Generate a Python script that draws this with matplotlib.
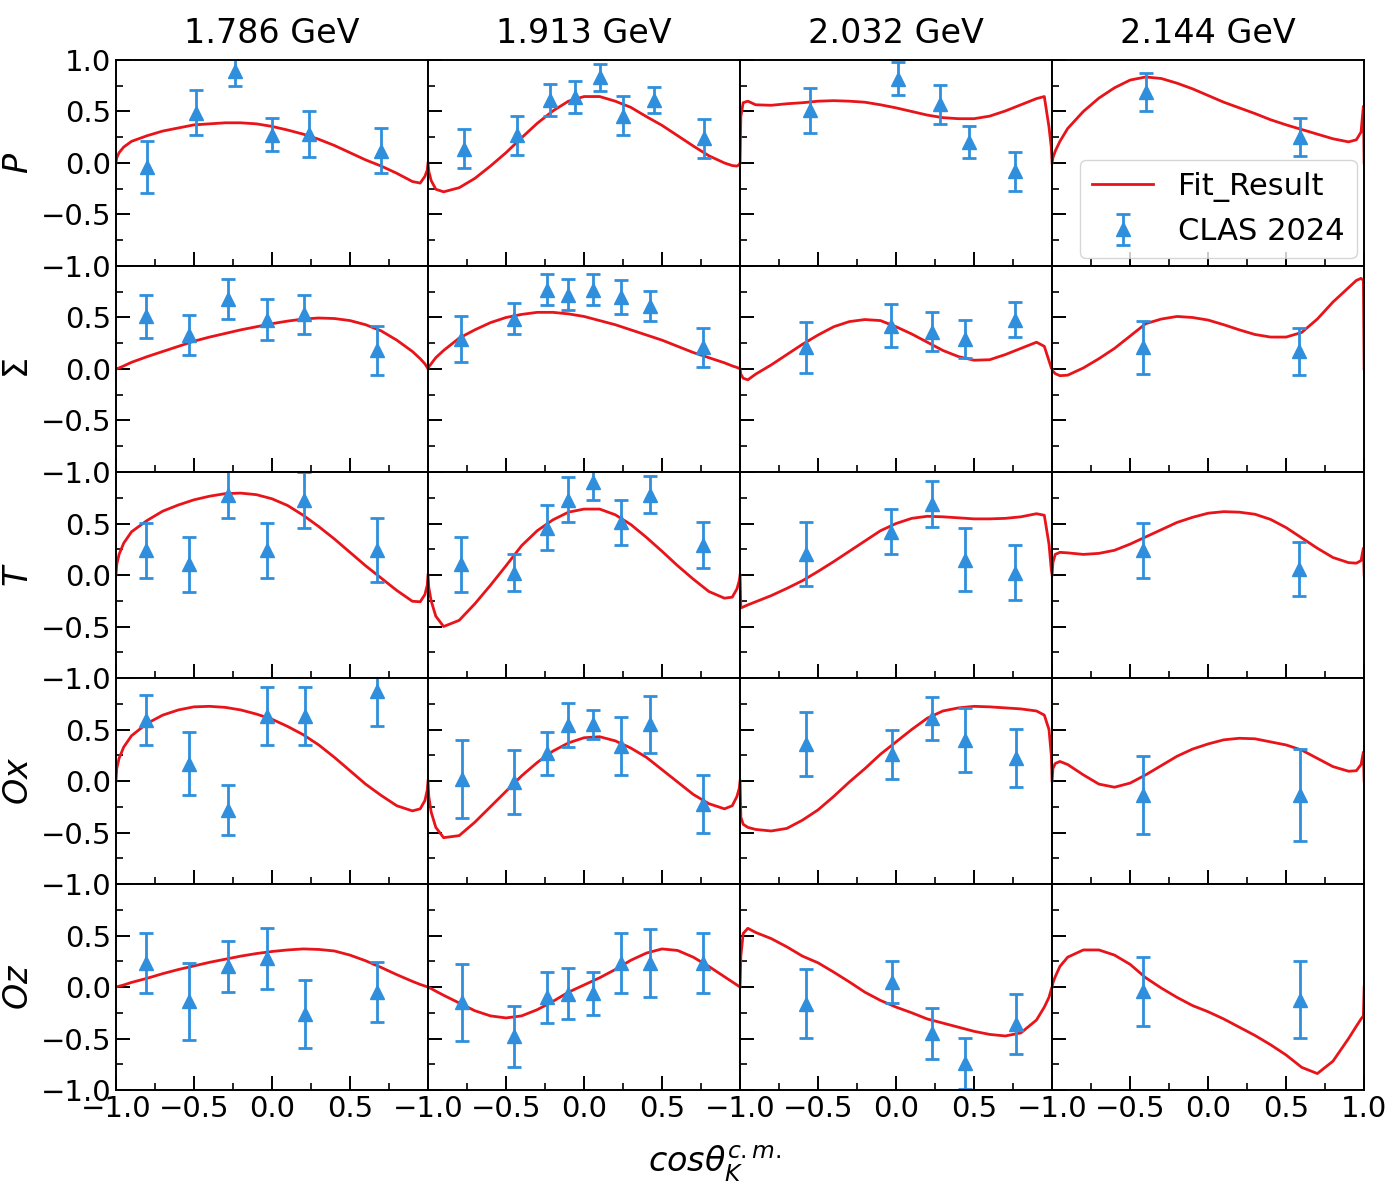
import numpy as np
import matplotlib.pyplot as plt
from matplotlib.ticker import MultipleLocator

# energies (columns) and observables (rows)
energies = ["1.786 GeV", "1.913 GeV", "2.032 GeV", "2.144 GeV"]
obs_labels = ["$P$", r"$\Sigma$", "$T$", "$Ox$", "$Oz$"]

# cos(theta) grid on which the fit curves were read
cos_grid = [-1.0, -0.995, -0.98, -0.95, -0.9, -0.8, -0.7, -0.6, -0.5, -0.4, -0.3, -0.2, -0.1,
            0.0, 0.1, 0.2, 0.3, 0.4, 0.5, 0.6, 0.7, 0.8, 0.9, 0.95, 0.98, 0.995, 1.0]

# fit curves, one list per energy
fit_P = [
    [0, 0.05, 0.10, 0.155, 0.21, 0.265, 0.31, 0.34, 0.37, 0.38, 0.39, 0.39, 0.38,
     0.355, 0.32, 0.28, 0.23, 0.17, 0.10, 0.03, -0.03, -0.10, -0.18, -0.195, -0.13, -0.07, 0],
    [0, -0.08, -0.17, -0.255, -0.28, -0.24, -0.15, -0.03, 0.10, 0.245, 0.385, 0.505, 0.60,
     0.645, 0.645, 0.60, 0.54, 0.45, 0.365, 0.265, 0.165, 0.07, 0.0, -0.025, -0.03, -0.015, 0],
    [0, 0.45, 0.585, 0.60, 0.565, 0.56, 0.575, 0.585, 0.60, 0.605, 0.60, 0.59, 0.565,
     0.535, 0.50, 0.465, 0.44, 0.43, 0.43, 0.455, 0.505, 0.565, 0.625, 0.645, 0.35, 0.15, 0],
    [0, 0.05, 0.115, 0.21, 0.335, 0.50, 0.63, 0.73, 0.805, 0.835, 0.82, 0.775, 0.72,
     0.655, 0.59, 0.535, 0.48, 0.42, 0.37, 0.325, 0.28, 0.235, 0.205, 0.225, 0.30, 0.55, 0],
]
fit_S = [
    [0, 0.003, 0.01, 0.03, 0.065, 0.12, 0.17, 0.22, 0.27, 0.31, 0.345, 0.38, 0.41,
     0.44, 0.465, 0.485, 0.495, 0.49, 0.47, 0.43, 0.37, 0.28, 0.17, 0.10, 0.05, 0.015, 0],
    [0, 0.02, 0.05, 0.11, 0.18, 0.30, 0.38, 0.45, 0.50, 0.53, 0.55, 0.55, 0.535,
     0.51, 0.47, 0.43, 0.38, 0.33, 0.28, 0.22, 0.16, 0.11, 0.06, 0.03, 0.015, 0.005, 0],
    [0, -0.05, -0.09, -0.105, -0.05, 0.04, 0.14, 0.24, 0.33, 0.41, 0.46, 0.48, 0.47,
     0.41, 0.34, 0.26, 0.18, 0.12, 0.085, 0.09, 0.14, 0.20, 0.26, 0.22, 0.08, 0.01, 0],
    [0, -0.02, -0.045, -0.065, -0.06, 0.01, 0.10, 0.20, 0.32, 0.44, 0.485, 0.51, 0.50,
     0.475, 0.43, 0.38, 0.335, 0.31, 0.31, 0.355, 0.485, 0.65, 0.79, 0.86, 0.88, 0.86, 0],
]
fit_T = [
    [0, 0.10, 0.20, 0.31, 0.42, 0.53, 0.62, 0.68, 0.73, 0.765, 0.79, 0.795, 0.78,
     0.74, 0.675, 0.58, 0.47, 0.35, 0.22, 0.09, -0.03, -0.15, -0.255, -0.26, -0.19, -0.10, 0],
    [0, -0.12, -0.25, -0.40, -0.50, -0.44, -0.28, -0.10, 0.09, 0.285, 0.43, 0.535, 0.61,
     0.64, 0.64, 0.585, 0.49, 0.365, 0.23, 0.09, -0.04, -0.16, -0.225, -0.215, -0.135, -0.055, 0],
    [0, -0.32, -0.31, -0.29, -0.26, -0.20, -0.13, -0.055, 0.035, 0.13, 0.23, 0.33, 0.43,
     0.50, 0.55, 0.57, 0.565, 0.555, 0.545, 0.545, 0.55, 0.565, 0.595, 0.58, 0.30, 0.05, 0],
    [0, 0.12, 0.20, 0.22, 0.215, 0.20, 0.21, 0.24, 0.30, 0.37, 0.44, 0.51, 0.56,
     0.60, 0.615, 0.61, 0.59, 0.54, 0.46, 0.36, 0.26, 0.17, 0.12, 0.115, 0.14, 0.26, 0],
]
fit_Ox = [
    [0, 0.12, 0.22, 0.33, 0.44, 0.56, 0.64, 0.69, 0.72, 0.725, 0.715, 0.69, 0.65,
     0.60, 0.53, 0.45, 0.35, 0.23, 0.10, -0.03, -0.14, -0.24, -0.29, -0.27, -0.19, -0.09, 0],
    [0, -0.15, -0.30, -0.45, -0.55, -0.53, -0.40, -0.25, -0.10, 0.05, 0.18, 0.29, 0.37,
     0.42, 0.43, 0.39, 0.32, 0.23, 0.11, -0.01, -0.13, -0.22, -0.27, -0.24, -0.15, -0.07, 0],
    [0, -0.35, -0.42, -0.45, -0.47, -0.485, -0.46, -0.38, -0.28, -0.15, -0.01, 0.12, 0.26,
     0.38, 0.50, 0.61, 0.68, 0.71, 0.725, 0.72, 0.71, 0.70, 0.68, 0.64, 0.50, 0.25, 0],
    [0, 0.12, 0.17, 0.19, 0.16, 0.06, -0.03, -0.06, -0.02, 0.06, 0.15, 0.24, 0.31,
     0.36, 0.40, 0.415, 0.41, 0.38, 0.35, 0.30, 0.22, 0.14, 0.095, 0.10, 0.16, 0.28, 0],
]
fit_Oz = [
    [0, 0.002, 0.008, 0.02, 0.045, 0.085, 0.13, 0.17, 0.205, 0.24, 0.27, 0.30, 0.325,
     0.345, 0.36, 0.37, 0.365, 0.35, 0.31, 0.255, 0.19, 0.12, 0.055, 0.025, 0.01, 0.002, 0],
    [0, -0.005, -0.015, -0.04, -0.08, -0.155, -0.23, -0.28, -0.30, -0.28, -0.22, -0.14, -0.05,
     0.02, 0.09, 0.17, 0.26, 0.33, 0.37, 0.355, 0.29, 0.20, 0.10, 0.05, 0.02, 0.005, 0],
    [0, 0.30, 0.52, 0.57, 0.53, 0.47, 0.39, 0.30, 0.235, 0.145, 0.05, -0.05, -0.13,
     -0.195, -0.25, -0.31, -0.35, -0.39, -0.43, -0.46, -0.475, -0.445, -0.32, -0.195, -0.10, -0.02, 0],
    [0, 0.04, 0.10, 0.20, 0.29, 0.36, 0.36, 0.31, 0.22, 0.09, -0.01, -0.10, -0.18,
     -0.24, -0.31, -0.39, -0.47, -0.56, -0.66, -0.78, -0.84, -0.72, -0.50, -0.38, -0.31, -0.28, 0],
]

# CLAS 2024 data points
P_x = [[-0.80, -0.49, -0.235, 0.0, 0.24, 0.70],
       [-0.77, -0.43, -0.215, -0.06, 0.10, 0.25, 0.45, 0.77],
       [-0.55, 0.015, 0.28, 0.47, 0.76],
       [-0.40, 0.59]]
P_y = [[-0.04, 0.49, 0.89, 0.275, 0.28, 0.12],
       [0.14, 0.27, 0.61, 0.64, 0.83, 0.46, 0.61, 0.24],
       [0.51, 0.82, 0.57, 0.20, -0.08],
       [0.69, 0.25]]
P_err = [[0.25, 0.22, 0.14, 0.16, 0.22, 0.22],
         [0.19, 0.19, 0.155, 0.155, 0.13, 0.19, 0.125, 0.19],
         [0.22, 0.16, 0.19, 0.155, 0.19],
         [0.185, 0.186]]

S_x = [[-0.81, -0.53, -0.28, -0.03, 0.205, 0.67],
       [-0.79, -0.45, -0.24, -0.10, 0.06, 0.235, 0.42, 0.76],
       [-0.58, -0.03, 0.23, 0.44, 0.765],
       [-0.42, 0.585]]
S_y = [[0.51, 0.33, 0.68, 0.48, 0.53, 0.18],
       [0.29, 0.49, 0.77, 0.72, 0.77, 0.70, 0.61, 0.21],
       [0.21, 0.42, 0.36, 0.29, 0.48],
       [0.21, 0.17]]
S_err = [[0.21, 0.19, 0.19, 0.20, 0.19, 0.24],
         [0.225, 0.15, 0.15, 0.15, 0.15, 0.165, 0.145, 0.187],
         [0.245, 0.21, 0.19, 0.187, 0.17],
         [0.26, 0.225]]

T_x = S_x
T_y = [[0.24, 0.105, 0.78, 0.24, 0.73, 0.24],
       [0.105, 0.02, 0.46, 0.73, 0.90, 0.51, 0.78, 0.29],
       [0.20, 0.42, 0.69, 0.15, 0.02],
       [0.24, 0.06]]
T_err = [[0.265, 0.267, 0.23, 0.265, 0.27, 0.31],
         [0.267, 0.18, 0.22, 0.22, 0.17, 0.22, 0.18, 0.22],
         [0.31, 0.22, 0.22, 0.31, 0.267],
         [0.267, 0.265]]

Ox_x = [[-0.81, -0.53, -0.285, -0.03, 0.21, 0.67],
        [-0.785, -0.45, -0.24, -0.10, 0.06, 0.235, 0.42, 0.76],
        [-0.58, -0.025, 0.23, 0.44, 0.77],
        [-0.42, 0.586]]
Ox_y = [[0.59, 0.17, -0.28, 0.63, 0.63, 0.87],
        [0.02, -0.01, 0.27, 0.545, 0.55, 0.34, 0.55, -0.22],
        [0.36, 0.26, 0.61, 0.40, 0.225],
        [-0.135, -0.135]]
Ox_err = [[0.245, 0.31, 0.245, 0.28, 0.28, 0.34],
          [0.38, 0.31, 0.21, 0.21, 0.14, 0.28, 0.28, 0.28],
          [0.31, 0.24, 0.21, 0.31, 0.28],
          [0.38, 0.45]]

Oz_x = Ox_x
Oz_y = [[0.23, -0.14, 0.20, 0.28, -0.26, -0.05],
        [-0.15, -0.48, -0.10, -0.065, -0.06, 0.23, 0.23, 0.23],
        [-0.16, 0.05, -0.45, -0.74, -0.36],
        [-0.04, -0.125]]
Oz_err = [[0.29, 0.375, 0.25, 0.295, 0.333, 0.29],
          [0.377, 0.295, 0.25, 0.25, 0.21, 0.29, 0.33, 0.29],
          [0.335, 0.207, 0.25, 0.25, 0.29],
          [0.335, 0.374]]

fits = [fit_P, fit_S, fit_T, fit_Ox, fit_Oz]
xs = [P_x, S_x, T_x, Ox_x, Oz_x]
ys = [P_y, S_y, T_y, Ox_y, Oz_y]
errs = [P_err, S_err, T_err, Ox_err, Oz_err]

red = "#e8141a"
blue = "#2f8fdd"

fig, axes = plt.subplots(5, 4, figsize=(13.92, 11.9), dpi=100)
fig.subplots_adjust(left=0.0833, right=0.98, top=0.9496, bottom=0.084, wspace=0, hspace=0)

xtick_vals = [-1.0, -0.5, 0.0, 0.5, 1.0]
ytick_vals = [-1.0, -0.5, 0.0, 0.5, 1.0]
tick_txt = ["\u22121.0", "\u22120.5", "0.0", "0.5", "1.0"]

for r in range(5):
    for c in range(4):
        ax = axes[r, c]
        ax.plot(cos_grid, fits[r][c], color=red, lw=2.0, label="Fit_Result")
        ax.errorbar(xs[r][c], ys[r][c], yerr=errs[r][c], fmt="^", color=blue,
                    ms=10, elinewidth=2, capsize=5, capthick=2, label="CLAS 2024")
        ax.set_xlim(-1, 1)
        ax.set_ylim(-1, 1)

        ax.set_xticks(xtick_vals)
        if r == 4:
            labs = tick_txt[:4] + (["1.0"] if c == 3 else [""])
            ax.set_xticklabels(labs)
        else:
            ax.set_xticklabels([""] * 5)
        ax.set_yticks(ytick_vals)
        if c == 0:
            labs = tick_txt[:4] + (["1.0"] if r == 0 else [""])
            ax.set_yticklabels(labs)
            ax.set_ylabel(obs_labels[r], fontsize=24)
        else:
            ax.set_yticklabels([""] * 5)
        ax.xaxis.set_minor_locator(MultipleLocator(0.25))
        ax.yaxis.set_minor_locator(MultipleLocator(0.25))
        ax.tick_params(which="major", direction="in", length=10, width=1.4, labelsize=21)
        ax.tick_params(which="minor", direction="in", length=5, width=1.2)
        for sp in ax.spines.values():
            sp.set_linewidth(1.4)

        if r == 0:
            ax.set_title(energies[c], fontsize=24, pad=12)

axes[0, 3].legend(loc="lower right", fontsize=22, borderaxespad=0.25, handlelength=2.0)

fig.text(715 / 1392, 0.022, r"$cos\theta_K^{c.m.}$", fontsize=24, ha="center", va="center")

plt.savefig("out.png", dpi=100)
